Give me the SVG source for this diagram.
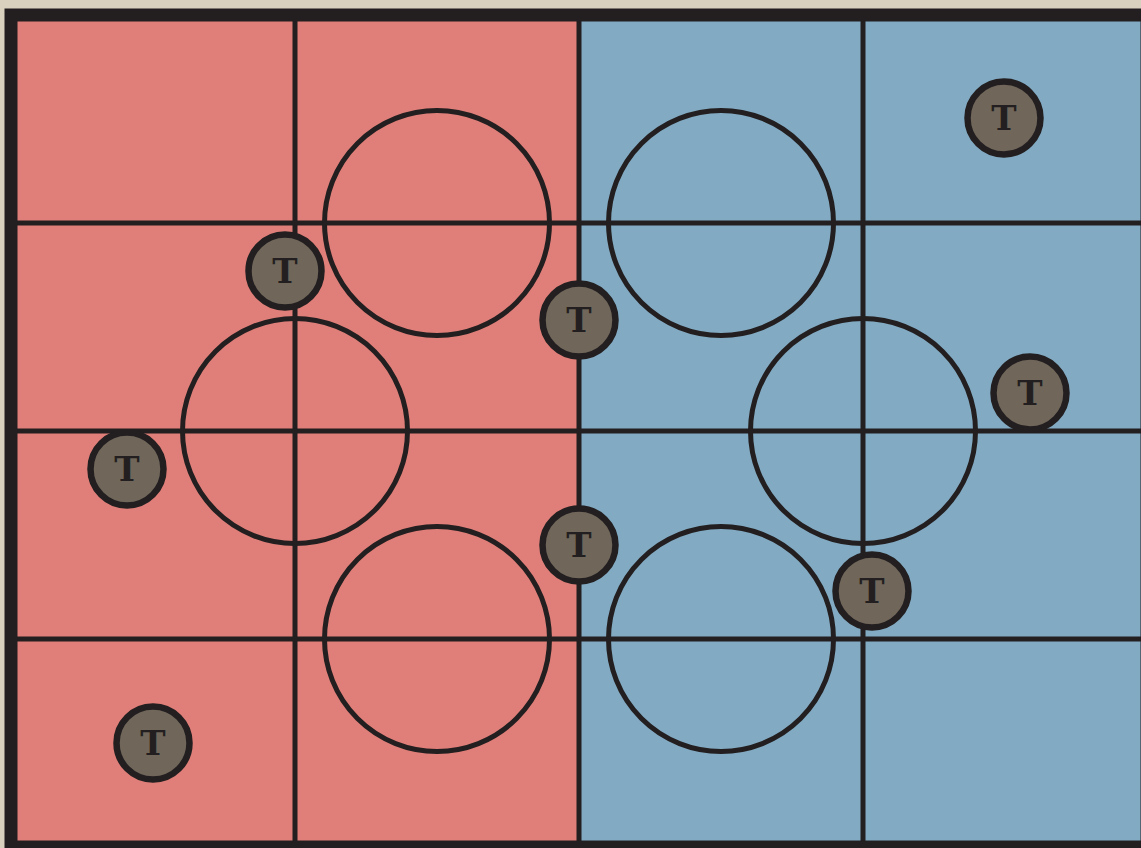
<svg xmlns="http://www.w3.org/2000/svg" width="1141" height="848" viewBox="0 0 1141 848">
<style>
.grid{stroke:#231f20;stroke-width:5;fill:none}
.ring{stroke:#231f20;stroke-width:5;fill:none}
.tok circle{fill:#70665a;stroke:#231f20;stroke-width:6.5}
.tok text{font-family:"DejaVu Serif","Liberation Serif",serif;font-weight:bold;font-size:34px;fill:#231f20;text-anchor:middle}
</style>
<rect x="0" y="0" width="1141" height="848" fill="#d9d0be"/>
<g id="board">
<rect x="11" y="15" width="568" height="832" fill="#e07f79"/>
<rect x="579" y="15" width="568" height="832" fill="#82abc3"/>
</g>
<g id="connectors">
<line class="grid" x1="295" y1="15" x2="295" y2="847"/>
<line class="grid" x1="579" y1="15" x2="579" y2="847"/>
<line class="grid" x1="863" y1="15" x2="863" y2="847"/>
<line class="grid" x1="11" y1="223" x2="1147" y2="223"/>
<line class="grid" x1="11" y1="431" x2="1147" y2="431"/>
<line class="grid" x1="11" y1="639" x2="1147" y2="639"/>
</g>
<g id="rings">
<circle class="ring" cx="437" cy="223" r="112.5"/>
<circle class="ring" cx="721" cy="223" r="112.5"/>
<circle class="ring" cx="295" cy="431" r="112.5"/>
<circle class="ring" cx="863" cy="431" r="112.5"/>
<circle class="ring" cx="437" cy="639" r="112.5"/>
<circle class="ring" cx="721" cy="639" r="112.5"/>
</g>
<rect id="frame" x="11" y="15" width="1136" height="832" fill="none" stroke="#231f20" stroke-width="13"/>
<g id="t1" class="tok"><circle cx="1004" cy="118" r="36.5"/><text x="1004" y="130">T</text></g>
<g id="t2" class="tok"><circle cx="285" cy="271" r="36.5"/><text x="285" y="283">T</text></g>
<g id="t3" class="tok"><circle cx="579" cy="320" r="36.5"/><text x="579" y="332">T</text></g>
<g id="t4" class="tok"><circle cx="1030" cy="393" r="36.5"/><text x="1030" y="405">T</text></g>
<g id="t5" class="tok"><circle cx="127" cy="469" r="36.5"/><text x="127" y="481">T</text></g>
<g id="t6" class="tok"><circle cx="579" cy="545" r="36.5"/><text x="579" y="557">T</text></g>
<g id="t7" class="tok"><circle cx="872" cy="591" r="36.5"/><text x="872" y="603">T</text></g>
<g id="t8" class="tok"><circle cx="153" cy="743" r="36.5"/><text x="153" y="755">T</text></g>
</svg>
